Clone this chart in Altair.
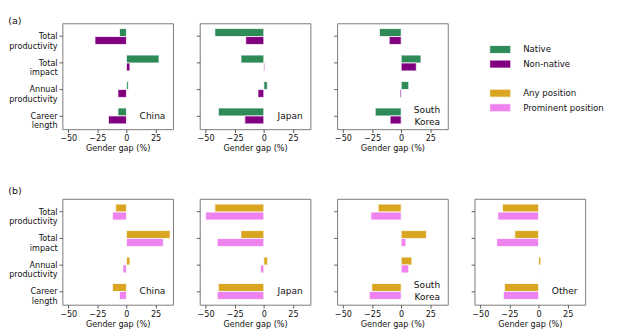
import altair as alt
import pandas as pd

# ---------------- data ----------------
metrics = ["Total productivity", "Total impact", "Annual productivity", "Career length"]

countries_a = ["China", "Japan", "South Korea"]
native = {
    "China": [-6, 28, 1.6, -7.3],
    "Japan": [-42, -19.6, 3, -39],
    "South Korea": [-18.7, 17, 6.5, -22.3],
}
non_native = {
    "China": [-27, 3, -7.3, -15.5],
    "Japan": [-15.5, 0.8, -5, -16.3],
    "South Korea": [-10.3, 13, -1, -9.5],
}

countries_b = ["China", "Japan", "South Korea", "Other"]
any_position = {
    "China": [-9.2, 37.5, 3, -12],
    "Japan": [-42, -19.6, 3.3, -39],
    "South Korea": [-19.8, 21.7, 9.2, -25.2],
    "Other": [-31, -20.4, 1.9, -29.3],
}
prominent_position = {
    "China": [-12, 31.7, -3, -6],
    "Japan": [-50, -40, -2.7, -40],
    "South Korea": [-26, 4, 6.5, -27.4],
    "Other": [-35, -35.9, 0.3, -30.2],
}

country_text = {
    "China": ["China"],
    "Japan": ["Japan"],
    "South Korea": ["South", "Korea"],
    "Other": ["Other"],
}

series_all = ["Native", "Non-native", "Any position", "Prominent position"]
colors_all = ["#2e8b57", "#800080", "#daa520", "#ee82ee"]
legend_slots = ["", "Native", "Non-native", " ", "Any position", "Prominent position", "  "]

x_ticks = [-50, -25, 0, 25]
x_domain = [-55, 40]

W = 116
H = 111
FONT = "DejaVu Sans"
LH = 12.7

color_scale = alt.Scale(domain=series_all, range=colors_all)


def panel(country, names, v1, v2, first):
    rows = []
    for s, vals in zip(names, [v1, v2]):
        for m, v in zip(metrics, vals):
            rows.append({"metric": m, "series": s, "gap": v})
    df = pd.DataFrame(rows)
    if first:
        yaxis = alt.Axis(title=None, labelExpr="split(datum.label, ' ')",
                         labelFontSize=8.5, labelLineHeight=9.7, labelPadding=2,
                         tickSize=3.5, domain=False, labelColor="#111",
                         tickColor="#555")
    else:
        yaxis = alt.Axis(title=None, labels=False, tickSize=3.5, domain=False,
                         tickColor="#555")
    yenc = alt.Y("metric:N", sort=metrics,
                 scale=alt.Scale(domain=metrics, paddingInner=0.4, paddingOuter=0.2),
                 axis=yaxis)
    bars = alt.Chart(df).mark_bar(stroke="white", strokeWidth=0.8).encode(
        x=alt.X("gap:Q",
                scale=alt.Scale(domain=x_domain, nice=False, zero=False),
                axis=alt.Axis(values=x_ticks, title="Gender gap (%)", grid=False,
                              domain=False, tickSize=3.5, labelPadding=1.5,
                              titlePadding=2, labelFontSize=8.5, titleFontSize=8.5,
                              titleFontWeight="normal", labelColor="#111",
                              titleColor="#111", tickColor="#555")),
        y=yenc,
        yOffset=alt.YOffset("series:N", sort=names,
                            scale=alt.Scale(domain=names, paddingInner=0, paddingOuter=0)),
        color=alt.Color("series:N", scale=color_scale, legend=None),
    )
    lines = country_text[country]
    lab = alt.Chart(pd.DataFrame({"metric": [metrics[-1]]})).mark_text(
        text=lines, align="right", baseline="middle",
        dy=-(len(lines) - 1) * LH / 2,
        fontSize=9.5, lineHeight=LH, color="#111", font=FONT
    ).encode(y=yenc, x=alt.value(W - 8))
    return alt.layer(bars, lab).properties(width=W, height=H)


row_a_panels = [panel(c, ["Native", "Non-native"], native[c], non_native[c], i == 0)
                for i, c in enumerate(countries_a)]
row_b_panels = [panel(c, ["Any position", "Prominent position"], any_position[c],
                      prominent_position[c], i == 0)
                for i, c in enumerate(countries_b)]

legend_df = pd.DataFrame({"label": series_all})
lbase = alt.Chart(legend_df).encode(
    y=alt.Y("label:N", sort=legend_slots,
            scale=alt.Scale(domain=legend_slots, paddingInner=0, paddingOuter=0.3),
            axis=None)
)
lrect = lbase.mark_bar(height=8.3, stroke="white", strokeWidth=0.8).encode(
    x=alt.value(21), x2=alt.value(43),
    color=alt.Color("label:N", scale=color_scale, legend=None),
)
ltext = lbase.mark_text(align="left", baseline="middle", fontSize=9,
                        color="#111", font=FONT).encode(
    x=alt.value(56), text="label:N"
)
legend = alt.layer(lrect, ltext).properties(
    width=W, height=116, view=alt.ViewBackground(strokeOpacity=0)
)

title_a = alt.Title("(a)", anchor="start", fontSize=10, fontWeight="normal",
                    offset=-3, font=FONT, color="#111")
title_b = alt.Title("(b)", anchor="start", fontSize=10, fontWeight="normal",
                    offset=3, font=FONT, color="#111")

row_a = alt.hconcat(*row_a_panels, legend, spacing=22, title=title_a)
row_b = alt.hconcat(*row_b_panels, spacing=22, title=title_b)

chart = alt.vconcat(row_a, row_b, spacing=34).resolve_scale(
    x="independent", y="independent", yOffset="independent"
).properties(
    padding={"left": 0, "top": 0, "right": 5, "bottom": 5}
).configure(
    font=FONT
).configure_view(
    stroke="#777", strokeWidth=1
)

chart.save("out.html", embed_options={"renderer": "svg", "actions": False})
